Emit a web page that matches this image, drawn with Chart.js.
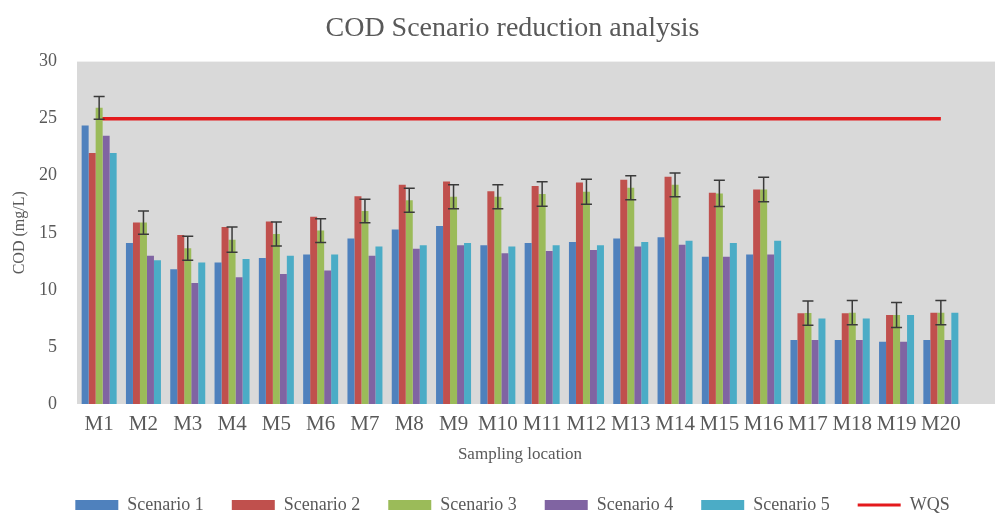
<!DOCTYPE html>
<html>
<head>
<meta charset="utf-8">
<script src="https://cdn.jsdelivr.net/npm/chart.js@4.4.1/dist/chart.umd.min.js"></script>
<style>
  html, body { margin: 0; padding: 0; background: #fff; }
  #wrap { width: 995px; height: 516px; position: relative; }
</style>
</head>
<body>
<div id="wrap"><canvas id="cod"></canvas></div>
<script>
// ── Data ─────────────────────────────────────────────────────────────────────
const locations = ['M1','M2','M3','M4','M5','M6','M7','M8','M9','M10',
                   'M11','M12','M13','M14','M15','M16','M17','M18','M19','M20'];
const scenario1 = [24.4, 14.1, 11.8, 12.4, 12.8, 13.1, 14.5, 15.3, 15.6, 13.9,
                   14.1, 14.2, 14.5, 14.6, 12.9, 13.1, 5.6, 5.6, 5.45, 5.6];
const scenario2 = [22.0, 15.9, 14.8, 15.5, 16.0, 16.4, 18.2, 19.2, 19.5, 18.65,
                   19.1, 19.4, 19.65, 19.9, 18.5, 18.8, 7.95, 7.95, 7.8, 8.0];
const scenario3 = [25.95, 15.9, 13.65, 14.4, 14.9, 15.2, 16.9, 17.85, 18.15, 18.15,
                   18.4, 18.6, 18.95, 19.2, 18.45, 18.8, 7.97, 8.0, 7.8, 8.0];
const scenario3Err = [1.0, 1.02, 1.05, 1.1, 1.05, 1.04, 1.03, 1.05, 1.05, 1.05,
                      1.07, 1.1, 1.05, 1.04, 1.15, 1.07, 1.06, 1.06, 1.1, 1.06];
const scenario4 = [23.5, 13.0, 10.6, 11.1, 11.4, 11.7, 13.0, 13.6, 13.9, 13.2,
                   13.4, 13.5, 13.8, 13.95, 12.9, 13.1, 5.6, 5.6, 5.45, 5.6];
const scenario5 = [22.0, 12.6, 12.4, 12.7, 13.0, 13.1, 13.8, 13.9, 14.1, 13.8,
                   13.9, 13.9, 14.2, 14.3, 14.1, 14.3, 7.5, 7.5, 7.8, 8.0];
const wqs       = [25, 25, 25, 25, 25, 25, 25, 25, 25, 25,
                   25, 25, 25, 25, 25, 25, 25, 25, 25, 25];
const yTicks = [0, 5, 10, 15, 20, 25, 30];

const TEXT = '#595959';
const SERIF = '"Liberation Serif", "DejaVu Serif", serif';

// gray plot background, runs on to the right edge like the original
const plotBg = {
  id: 'plotBg',
  beforeDraw(chart) {
    const a = chart.chartArea, ctx = chart.ctx;
    ctx.save();
    ctx.fillStyle = '#d9d9d9';
    ctx.fillRect(a.left, a.top, chart.width - a.left, a.bottom - a.top);
    ctx.restore();
  }
};

// error bars on Scenario 3
const errorBars = {
  id: 'errorBars',
  afterDatasetsDraw(chart) {
    const meta = chart.getDatasetMeta(2);
    const y = chart.scales.y, ctx = chart.ctx;
    ctx.save();
    ctx.strokeStyle = '#3a3a3a';
    ctx.lineWidth = 1.5;
    meta.data.forEach(function(bar, i) {
      const v = scenario3[i], e = scenario3Err[i];
      const top = y.getPixelForValue(v + e), bot = y.getPixelForValue(v - e);
      ctx.beginPath();
      ctx.moveTo(bar.x, top); ctx.lineTo(bar.x, bot);
      ctx.moveTo(bar.x - 5.5, top); ctx.lineTo(bar.x + 5.5, top);
      ctx.moveTo(bar.x - 5.5, bot); ctx.lineTo(bar.x + 5.5, bot);
      ctx.stroke();
    });
    ctx.restore();
  }
};

function barSet(label, data, color) {
  return { type: 'bar', label: label, data: data, backgroundColor: color, borderWidth: 0 };
}

new Chart(document.getElementById('cod'), {
  data: {
    labels: locations,
    datasets: [
      barSet('Scenario 1', scenario1, '#4f81bd'),
      barSet('Scenario 2', scenario2, '#c0504d'),
      barSet('Scenario 3', scenario3, '#9bbb59'),
      barSet('Scenario 4', scenario4, '#8064a2'),
      barSet('Scenario 5', scenario5, '#4bacc6'),
      { type: 'line', label: 'WQS', data: wqs, borderColor: '#e41a1c', backgroundColor: '#e41a1c',
        borderWidth: 3.5, pointRadius: 0, pointStyle: 'line' }
    ]
  },
  options: {
    responsive: true,
    maintainAspectRatio: false,
    animation: false,
    // left padding centres title and legend like the original
    layout: { padding: { left: 30, right: 0, top: 0, bottom: 0 } },
    datasets: { bar: { categoryPercentage: 0.79, barPercentage: 1.0 } },
    plugins: {
      tooltip: { enabled: false },
      title: {
        display: true,
        text: 'COD Scenario reduction analysis',
        color: TEXT,
        font: { family: SERIF, size: 28, weight: 'normal' },
        padding: { top: 12, bottom: 16 }
      },
      legend: {
        position: 'bottom',
        maxHeight: 48,
        labels: {
          usePointStyle: true,
          pointStyleWidth: 43,
          boxHeight: 10,
          padding: 28,
          color: TEXT,
          font: { family: SERIF, size: 18 },
          generateLabels: function(chart) {
            const items = Chart.defaults.plugins.legend.labels.generateLabels(chart);
            return items.map(function(it) {
              if (it.text === 'WQS') {
                it.pointStyle = 'line'; it.lineWidth = 3; it.strokeStyle = '#e41a1c';
              } else {
                it.pointStyle = 'rect'; it.lineWidth = 0;
              }
              return it;
            });
          }
        }
      }
    },
    scales: {
      x: {
        grid: { display: false, drawTicks: false },
        border: { display: false },
        ticks: { color: TEXT, font: { family: SERIF, size: 21, lineHeight: 1 }, padding: 10,
                 autoSkip: false, maxRotation: 0 },
        title: { display: true, text: 'Sampling location', color: TEXT,
                 font: { family: SERIF, size: 17, lineHeight: 1 }, padding: { top: 1.5, bottom: 4.5 } }
      },
      y: {
        min: 0,
        max: 30,
        afterBuildTicks: function(scale) { scale.ticks = yTicks.map(function(v) { return { value: v }; }); },
        afterFit: function(scale) { scale.width = 47; },
        grid: { display: false, drawTicks: false },
        border: { display: false },
        ticks: { color: TEXT, font: { family: SERIF, size: 18 }, padding: 20 },
        title: { display: true, text: 'COD (mg/L)', color: TEXT,
                 font: { family: SERIF, size: 16 }, padding: { top: -20, bottom: 0 } }
      },
      // empty right-hand strip so the categories stop where the original's do
      yRight: {
        position: 'right',
        min: 0,
        max: 30,
        afterFit: function(scale) { scale.width = 32; },
        grid: { display: false, drawTicks: false },
        border: { display: false },
        ticks: { display: false }
      }
    }
  },
  plugins: [plotBg, errorBars]
});
</script>
</body>
</html>
